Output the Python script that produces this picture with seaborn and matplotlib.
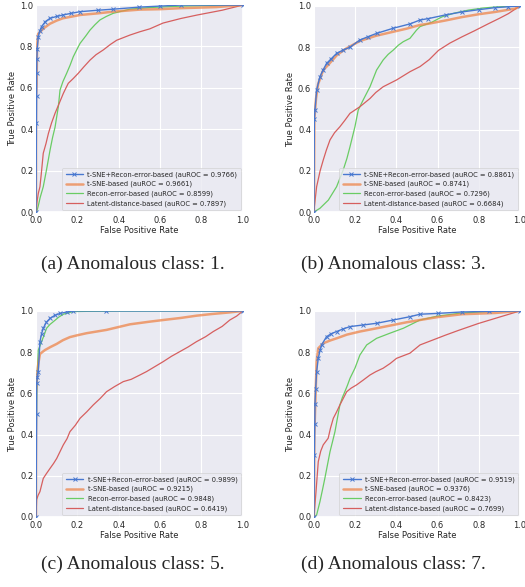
import matplotlib
matplotlib.use("Agg")
import matplotlib.pyplot as plt
import seaborn as sns
import pandas as pd

# ---------------- data ----------------
methods = ["t-SNE+Recon-error-based", "t-SNE-based", "Recon-error-based", "Latent-distance-based"]
captions = ["(a) Anomalous class: 1.", "(b) Anomalous class: 3.",
            "(c) Anomalous class: 5.", "(d) Anomalous class: 7."]

auc_a = [0.9766, 0.9661, 0.8599, 0.7897]
auc_b = [0.8861, 0.8741, 0.7296, 0.6684]
auc_c = [0.9899, 0.9215, 0.9848, 0.6419]
auc_d = [0.9519, 0.9376, 0.8423, 0.7699]

# panel (a)
a_blue_fpr = [0, 0.002, 0.003, 0.003, 0.004, 0.006, 0.011, 0.018, 0.027, 0.045, 0.068, 0.1, 0.13, 0.17, 0.213, 0.3, 0.373, 0.5, 0.6, 0.7, 1.0]
a_blue_tpr = [0, 0.43, 0.56, 0.67, 0.74, 0.79, 0.847, 0.875, 0.896, 0.92, 0.936, 0.945, 0.952, 0.96, 0.968, 0.975, 0.98, 0.99, 0.995, 1.0, 1.0]
a_orng_fpr = [0, 0.0, 0.003, 0.005, 0.01, 0.019, 0.04, 0.068, 0.1, 0.13, 0.213, 0.3, 0.373, 0.502, 0.6, 0.7, 0.87, 1.0]
a_orng_tpr = [0, 0.55, 0.62, 0.80, 0.86, 0.87, 0.89, 0.91, 0.925, 0.936, 0.952, 0.96, 0.968, 0.978, 0.98, 0.985, 0.99, 1.0]
a_grn_fpr = [0.003, 0.011, 0.02, 0.035, 0.05, 0.068, 0.08, 0.092, 0.1, 0.108, 0.116, 0.13, 0.148, 0.165, 0.18, 0.2, 0.213, 0.24, 0.261, 0.285, 0.309, 0.34, 0.373, 0.454, 0.55, 0.71, 1.0]
a_grn_tpr = [0.0, 0.03, 0.07, 0.122, 0.20, 0.30, 0.36, 0.41, 0.46, 0.509, 0.589, 0.63, 0.67, 0.71, 0.75, 0.79, 0.815, 0.85, 0.879, 0.905, 0.928, 0.945, 0.96, 0.98, 0.988, 0.995, 1.0]
a_red_fpr = [0, 0.005, 0.011, 0.019, 0.027, 0.035, 0.048, 0.06, 0.075, 0.092, 0.11, 0.132, 0.145, 0.156, 0.18, 0.204, 0.23, 0.261, 0.29, 0.325, 0.36, 0.39, 0.454, 0.502, 0.55, 0.614, 0.7, 0.78, 0.9, 1.0]
a_red_tpr = [0, 0.05, 0.09, 0.122, 0.20, 0.284, 0.33, 0.38, 0.43, 0.477, 0.52, 0.573, 0.60, 0.622, 0.645, 0.67, 0.70, 0.734, 0.76, 0.783, 0.81, 0.83, 0.855, 0.871, 0.885, 0.913, 0.935, 0.952, 0.975, 1.0]

# panel (b)
b_blue_fpr = [0, 0.002, 0.005, 0.013, 0.029, 0.045, 0.061, 0.085, 0.11, 0.14, 0.175, 0.223, 0.26, 0.304, 0.385, 0.466, 0.515, 0.556, 0.64, 0.718, 0.8, 0.879, 0.94, 1.0]
b_blue_tpr = [0, 0.45, 0.495, 0.592, 0.657, 0.69, 0.721, 0.745, 0.77, 0.785, 0.80, 0.835, 0.85, 0.867, 0.892, 0.913, 0.932, 0.939, 0.957, 0.971, 0.982, 0.992, 0.996, 1.0]
b_orng_fpr = [0, 0.002, 0.01, 0.02, 0.045, 0.07, 0.11, 0.15, 0.223, 0.3, 0.385, 0.45, 0.515, 0.556, 0.64, 0.718, 0.8, 0.879, 0.976, 1.0]
b_orng_tpr = [0, 0.45, 0.55, 0.62, 0.689, 0.715, 0.76, 0.79, 0.83, 0.855, 0.875, 0.89, 0.908, 0.914, 0.93, 0.946, 0.96, 0.971, 0.987, 1.0]
b_grn_fpr = [0, 0.029, 0.07, 0.11, 0.142, 0.16, 0.175, 0.199, 0.215, 0.239, 0.272, 0.304, 0.336, 0.36, 0.385, 0.41, 0.434, 0.466, 0.498, 0.515, 0.57, 0.621, 0.68, 0.75, 0.82, 0.879, 0.94, 1.0]
b_grn_tpr = [0, 0.018, 0.058, 0.123, 0.204, 0.26, 0.317, 0.414, 0.495, 0.544, 0.608, 0.689, 0.738, 0.765, 0.786, 0.81, 0.827, 0.843, 0.883, 0.90, 0.92, 0.947, 0.965, 0.98, 0.99, 0.995, 0.998, 1.0]
b_red_fpr = [0, 0.002, 0.013, 0.03, 0.045, 0.06, 0.078, 0.1, 0.126, 0.15, 0.175, 0.223, 0.272, 0.3, 0.336, 0.401, 0.466, 0.515, 0.56, 0.605, 0.66, 0.718, 0.78, 0.847, 0.9, 0.944, 1.0]
b_red_tpr = [0, 0.026, 0.123, 0.20, 0.252, 0.30, 0.35, 0.385, 0.414, 0.445, 0.479, 0.511, 0.551, 0.58, 0.608, 0.641, 0.681, 0.706, 0.74, 0.785, 0.82, 0.85, 0.88, 0.914, 0.94, 0.963, 1.0]

# panel (c)
c_blue_fpr = [0, 0.003, 0.003, 0.007, 0.011, 0.019, 0.027, 0.035, 0.05, 0.068, 0.09, 0.116, 0.15, 0.18, 0.34, 1.0]
c_blue_tpr = [0, 0.5, 0.65, 0.68, 0.705, 0.851, 0.89, 0.916, 0.945, 0.964, 0.978, 0.988, 0.995, 1.0, 1.0, 1.0]
c_grn_fpr = [0, 0.0, 0.003, 0.006, 0.011, 0.019, 0.027, 0.04, 0.051, 0.068, 0.084, 0.11, 0.132, 0.18, 0.25, 0.39, 1.0]
c_grn_tpr = [0, 0.25, 0.55, 0.70, 0.81, 0.83, 0.851, 0.885, 0.916, 0.935, 0.948, 0.97, 0.984, 0.997, 0.998, 0.999, 1.0]
c_orng_fpr = [0, 0.0, 0.005, 0.011, 0.019, 0.03, 0.043, 0.07, 0.1, 0.13, 0.164, 0.2, 0.245, 0.341, 0.454, 0.55, 0.615, 0.7, 0.776, 0.85, 0.937, 1.0]
c_orng_tpr = [0, 0.6, 0.68, 0.743, 0.791, 0.80, 0.81, 0.825, 0.84, 0.858, 0.873, 0.882, 0.892, 0.908, 0.935, 0.948, 0.956, 0.966, 0.977, 0.985, 0.993, 1.0]
c_red_fpr = [0, 0.003, 0.01, 0.019, 0.035, 0.05, 0.068, 0.085, 0.1, 0.115, 0.132, 0.15, 0.164, 0.19, 0.213, 0.245, 0.277, 0.31, 0.341, 0.38, 0.422, 0.46, 0.502, 0.535, 0.575, 0.615, 0.655, 0.696, 0.735, 0.776, 0.82, 0.857, 0.9, 0.937, 0.97, 1.0]
c_red_tpr = [0, 0.084, 0.105, 0.123, 0.187, 0.21, 0.236, 0.26, 0.284, 0.315, 0.35, 0.38, 0.414, 0.445, 0.479, 0.51, 0.544, 0.575, 0.608, 0.633, 0.657, 0.668, 0.689, 0.706, 0.73, 0.754, 0.78, 0.803, 0.825, 0.851, 0.875, 0.90, 0.925, 0.956, 0.975, 1.0]

# panel (d)
d_blue_fpr = [0, 0.002, 0.004, 0.005, 0.008, 0.013, 0.021, 0.03, 0.037, 0.061, 0.085, 0.11, 0.14, 0.175, 0.24, 0.304, 0.385, 0.466, 0.515, 0.6, 0.718, 0.85, 1.0]
d_blue_tpr = [0, 0.30, 0.45, 0.55, 0.62, 0.705, 0.77, 0.81, 0.835, 0.875, 0.89, 0.90, 0.912, 0.924, 0.932, 0.94, 0.956, 0.972, 0.984, 0.988, 0.995, 0.998, 1.0]
d_orng_fpr = [0, 0.002, 0.008, 0.013, 0.021, 0.045, 0.08, 0.11, 0.16, 0.223, 0.3, 0.385, 0.45, 0.515, 0.6, 0.718, 0.879, 1.0]
d_orng_tpr = [0, 0.40, 0.60, 0.754, 0.819, 0.843, 0.857, 0.867, 0.885, 0.90, 0.915, 0.932, 0.945, 0.956, 0.97, 0.984, 0.99, 1.0]
d_grn_fpr = [0, 0.013, 0.029, 0.041, 0.053, 0.065, 0.078, 0.09, 0.102, 0.114, 0.126, 0.138, 0.15, 0.163, 0.175, 0.199, 0.223, 0.256, 0.304, 0.369, 0.434, 0.515, 0.6, 0.718, 0.85, 1.0]
d_grn_tpr = [0, 0.01, 0.074, 0.13, 0.188, 0.25, 0.317, 0.365, 0.414, 0.48, 0.544, 0.58, 0.608, 0.64, 0.673, 0.722, 0.786, 0.835, 0.867, 0.892, 0.916, 0.956, 0.975, 0.99, 0.997, 1.0]
d_red_fpr = [0, 0.002, 0.01, 0.021, 0.033, 0.045, 0.069, 0.08, 0.094, 0.11, 0.126, 0.142, 0.159, 0.18, 0.207, 0.24, 0.272, 0.3, 0.336, 0.37, 0.401, 0.466, 0.515, 0.58, 0.637, 0.7, 0.798, 0.9, 1.0]
d_red_tpr = [0, 0.026, 0.123, 0.269, 0.32, 0.35, 0.382, 0.43, 0.479, 0.51, 0.544, 0.575, 0.608, 0.625, 0.641, 0.665, 0.689, 0.705, 0.722, 0.745, 0.77, 0.795, 0.835, 0.86, 0.882, 0.905, 0.939, 0.97, 1.0]

panels = [
    (auc_a, [(a_blue_fpr, a_blue_tpr), (a_orng_fpr, a_orng_tpr), (a_grn_fpr, a_grn_tpr), (a_red_fpr, a_red_tpr)]),
    (auc_b, [(b_blue_fpr, b_blue_tpr), (b_orng_fpr, b_orng_tpr), (b_grn_fpr, b_grn_tpr), (b_red_fpr, b_red_tpr)]),
    (auc_c, [(c_blue_fpr, c_blue_tpr), (c_orng_fpr, c_orng_tpr), (c_grn_fpr, c_grn_tpr), (c_red_fpr, c_red_tpr)]),
    (auc_d, [(d_blue_fpr, d_blue_tpr), (d_orng_fpr, d_orng_tpr), (d_grn_fpr, d_grn_tpr), (d_red_fpr, d_red_tpr)]),
]

# ---------------- styling ----------------
sns.set_theme(style="darkgrid", palette="muted")
plt.rcParams["font.family"] = ["DejaVu Sans"]
colors = sns.color_palette("muted")
series_colors = [colors[0], colors[1], colors[2], colors[3]]

fig = plt.figure(figsize=(5.25, 5.87), dpi=100)
fig.patch.set_facecolor("white")

axes_pos = [
    [0.0686, 0.6388, 0.394, 0.3526],
    [0.598, 0.6388, 0.3924, 0.351],
    [0.0686, 0.1193, 0.394, 0.351],
    [0.598, 0.1193, 0.3924, 0.351],
]
cap_pos = [(0.253, 0.550), (0.749, 0.550), (0.253, 0.039), (0.749, 0.039)]

for i, (aucs, curves) in enumerate(panels):
    ax = fig.add_axes(axes_pos[i])
    for j, (fpr, tpr) in enumerate(curves):
        df = pd.DataFrame({"fpr": fpr, "tpr": tpr})
        label = f"{methods[j]} (auROC = {aucs[j]:.4f})"
        kw = dict(x="fpr", y="tpr", data=df, ax=ax, sort=False, estimator=None,
                  color=series_colors[j], label=label)
        if j == 0:
            sns.lineplot(**kw, linewidth=1.0, marker="x", markersize=3,
                         markeredgewidth=0.7, markeredgecolor=series_colors[0],
                         zorder=5)
        elif j == 1:
            sns.lineplot(**kw, linewidth=1.8, alpha=0.75, zorder=4)
        else:
            sns.lineplot(**kw, linewidth=0.9, zorder=3)
    ax.set_xlim(0, 1)
    ax.set_ylim(0, 1)
    ax.set_xticks([0, 0.2, 0.4, 0.6, 0.8, 1.0])
    ax.set_yticks([0, 0.2, 0.4, 0.6, 0.8, 1.0])
    ax.tick_params(axis="y", labelsize=6, pad=2.0, length=0)
    ax.tick_params(axis="x", labelsize=6, pad=3.0, length=0)
    ax.set_xlabel("False Positive Rate", fontsize=6, labelpad=0.5)
    ax.set_ylabel("True Positive Rate", fontsize=6, labelpad=2)
    ax.grid(color="white", linewidth=0.8)
    leg = ax.legend(loc="lower right", fontsize=4.9, frameon=True,
                    borderpad=0.5, labelspacing=0.45, handlelength=2.6,
                    handletextpad=0.6, borderaxespad=0.3)
    leg.get_frame().set_linewidth(0.5)
    fig.text(cap_pos[i][0], cap_pos[i][1], captions[i], ha="center", va="center",
             fontsize=14, family="Liberation Serif")

fig.savefig("out.png", dpi=100, facecolor="white")
